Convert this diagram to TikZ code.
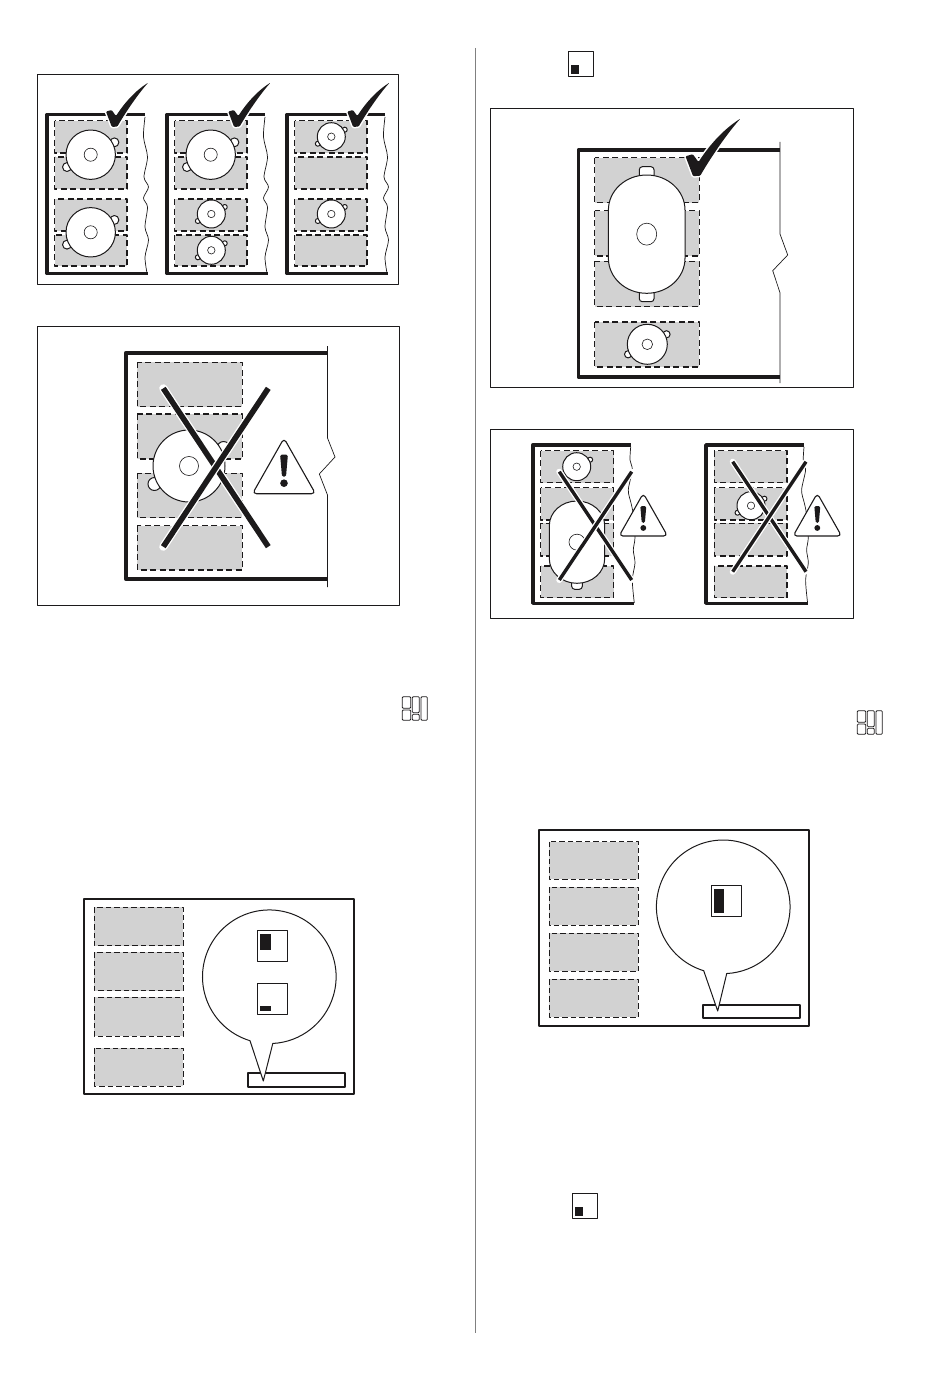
\documentclass[tikz,border=0pt]{standalone}
\definecolor{zonegray}{HTML}{D2D2D2}
\definecolor{inkblack}{HTML}{1C1A1B}
\begin{document}
\begin{tikzpicture}[x=1pt,y=-1pt,line join=round,
    panel/.style={draw=inkblack,line width=.8pt},
    panelthick/.style={draw=inkblack,line width=1.4pt},
    wall/.style={draw=inkblack,line width=3.6pt},
    edgeline/.style={draw=inkblack,line width=.7pt},
    zone/.style={fill=zonegray,draw=inkblack,line width=1.5pt,dash pattern=on 6pt off 3.5pt},
    zonethin/.style={fill=zonegray,draw=inkblack,line width=.8pt,dash pattern=on 5.5pt off 3pt},
    pot/.style={fill=white,draw=inkblack,line width=1pt},
    burner/.style={fill=white,draw=inkblack,line width=.6pt},
    keybox/.style={fill=white,draw=inkblack,line width=.9pt},
    bubble/.style={fill=white,draw=inkblack,line width=1pt}]
  \useasboundingbox (0,0) rectangle (950,1383);
  % separator between the columns
  \draw[gray,line width=.7pt] (475.5,48)--(475.5,1333);
  % frames
  \draw[panel] (37,74) rectangle (398,284);
  \draw[panel] (37,326) rectangle (399,605);
  \draw[panel] (490,108) rectangle (853,387);
  \draw[panel] (490,429) rectangle (853,618);
  \draw[panelthick] (84,899) rectangle (354,1094);
  \draw[panelthick] (539,830) rectangle (809,1026);

  % three small worktops, top left
  \foreach \dx in {0,120,240}{
    \draw[edgeline] plot[smooth] coordinates {(145+\dx,117) (143.5+\dx,137) (147.5+\dx,157) (144+\dx,177) (148.5+\dx,187) (143.5+\dx,198) (147.5+\dx,207) (145+\dx,227) (148.5+\dx,240) (145+\dx,257) (147+\dx,273)};
    \draw[wall] (145+\dx,114.5)--(47+\dx,114.5)--(47+\dx,273.5)--(148+\dx,273.5);
    \foreach \ya/\yb in {120.7/153,157/189,199/231,235/266}
      \draw[zone] (54.5+\dx,\ya) rectangle (127+\dx,\yb);
  }
  % worktop with the cross, left
  \draw[edgeline] (327.5,346)--(327.5,438)--(335,457)--(319.3,474)--(327.5,495)--(327.5,587);
  \draw[wall] (327,352.7)--(125.7,352.7)--(125.7,579)--(327,579);
  \foreach \ya/\yb in {362.3/406.7,414/459,473.3/517.7,525.7/570}
    \draw[zone] (137.3,\ya) rectangle (242.3,\yb);
  % worktop with the large oval pot
  \draw[edgeline] (780,142)--(780,234)--(787.7,255)--(772.7,270.7)--(780,292.7)--(780,383);
  \draw[wall] (780,150)--(578.3,150)--(578.3,376.7)--(780,376.7);
  \foreach \ya/\yb in {157.7/202.7,210.7/256,261.3/306.7,322/367}
    \draw[zone] (594.7,\ya) rectangle (699.3,\yb);
  % two worktops with crosses, right
  \foreach \dx/\zx in {0/540.7,173.3/714.3}{
    \draw[edgeline] plot[smooth] coordinates {(630.7+\dx,447) (630+\dx,460) (632.3+\dx,470) (628.3+\dx,490) (631+\dx,503) (633+\dx,513) (635+\dx,537) (633.3+\dx,550) (635+\dx,563) (632.3+\dx,580) (634.3+\dx,603)};
    \draw[wall] (631+\dx,445)--(532.7+\dx,445)--(532.7+\dx,603.3)--(634.3+\dx,603.3);
    \foreach \ya/\yb in {450.7/482.7,487.7/520,523.3/556,566/597.7}
      \draw[zone] (\zx,\ya) rectangle (\zx+72.8,\yb);
  }

  % round pots: centre, radius
  \foreach \cx/\cy/\pr in {90.7/154.7/24.7,90.7/232.3/24.7,210.7/154.7/24.7,211.3/214/14,211.3/250.3/14,331.3/136.7/14,331.3/214/14,189/466/36,647.3/344.3/20,751/505.7/14,576.7/466.7/14}{
    \fill[pot] ({\cx+\pr*.96},{\cy-\pr*.5}) circle ({\pr*.18pt});
    \fill[pot] ({\cx-\pr*.96},{\cy+\pr*.5}) circle ({\pr*.18pt});
    \fill[pot] (\cx,\cy) circle ({\pr*1pt});
    \fill[burner] (\cx,\cy) circle ({\pr*.265pt});
  }
  % oval pots
  \draw[pot,rounded corners=3pt] (639.3,178)--(639.3,166.7)--(654,166.7)--(654,178)--cycle;
  \draw[pot,rounded corners=3pt] (639.3,290)--(639.3,301.7)--(654,301.7)--(654,290)--cycle;
  \draw[pot,rounded corners=3pt] (571.7,580)--(571.7,589.3)--(582.3,589.3)--(582.3,580)--cycle;
  \foreach \cx/\yt/\yb/\w/\h/\bw/\bh in {646.7/210/258.3/38.3/35/10/11,577/525.7/558.6/27.7/24.7/8/8}{
    \draw[pot] (\cx-\w,\yt) arc[start angle=180,end angle=0,x radius=\w pt,y radius=\h pt]--(\cx+\w,\yb) arc[start angle=0,end angle=-180,x radius=\w pt,y radius=\h pt]--cycle;
    \draw[burner] (\cx,{(\yt+\yb)/2}) ellipse ({\bw*1pt} and {\bh*1pt});
  }

  % crosses
  \foreach \xa/\xb/\ya/\yb/\w in {163.3/268.3/388.3/546.7/5.6,559.3/631.7/471.7/580/3.4,732.7/806/461.7/571.7/3.4}{
    \draw[white,line width={\w*1pt+2.6pt},line cap=round] (\xa,\ya)--(\xb,\yb);
    \draw[inkblack,line width=\w pt] (\xa,\ya)--(\xb,\yb);
    \draw[white,line width={\w*1pt+2.6pt},line cap=round] (\xb,\ya)--(\xa,\yb);
    \draw[inkblack,line width=\w pt] (\xb,\ya)--(\xa,\yb);
  }
  % warning triangles
  \foreach \ax/\ay/\s in {284/441.7/1,643.3/496/.77,817.3/496/.77}{
    \begin{scope}[shift={(\ax,\ay)},scale=\s]
      \draw[fill=white,draw=inkblack,line width=1.1pt,rounded corners=4pt] (0,-3.5)--(31.5,52)--(-31.5,52)--cycle;
      \fill[inkblack,rounded corners=1.5pt] (-3.9,13)--(3.9,13)--(2,35)--(-2,35)--cycle;
      \fill[inkblack] (0,41.5) circle (3.8pt);
    \end{scope}
  }
  % check marks
  \foreach \tx/\ty/\s in {113.3/127.3/1,235.6/127.3/1,354.6/127.3/1,695/176.7/1.3}{
    \begin{scope}[shift={(\tx,\ty)},scale=\s]
      \fill[inkblack,preaction={draw=white,line width=3pt},rounded corners=1pt] (-7.3,-15.7)--(-1.7,-17.3)--(2.7,-11.3) .. controls (7,-18) and (18,-34) .. (35,-44.7) .. controls (27,-36) and (14,-18) .. (4,-.7)--(-1.5,-.4)--cycle;
    \end{scope}
  }

  % displays with speech bubbles
  \foreach \ya/\yb in {907.3/945.7,952.3/990.7,997.3/1036.3,1048.3/1086}
    \draw[zonethin] (94.3,\ya) rectangle (183.3,\yb);
  \foreach \ya/\yb in {841.7/879.3,887.3/925.3,933.3/971.3,979.3/1017.3}
    \draw[zonethin] (549,\ya) rectangle (638.3,\yb);
  \draw[keybox,line width=1.6pt] (247.7,1072.7) rectangle (345,1086.7);
  \draw[keybox,line width=1.6pt] (702.7,1004.7) rectangle (800,1018);
  \draw[bubble] (250,1040.7) arc[start angle=253.2,end angle=-87,radius=66.8pt]--(263.3,1081)--cycle;
  \draw[bubble] (703.7,970.7) arc[start angle=253,end angle=-87,radius=66.8pt]--(717.7,1011)--cycle;
  % level keys
  \foreach \xa/\ya/\xb/\yb in {257.3/930.3/287.3/961.3,257.3/983.3/287.3/1014.3,711.7/885.7/741.7/916.3,568.3/51.7/593.3/76.7,572.3/1193/597.3/1218.7}
    \draw[keybox] (\xa,\ya) rectangle (\xb,\yb);
  \foreach \xa/\ya/\xb/\yb in {260/934.3/270.7/949.7,260/1006.3/270.7/1011,714/889/724.3/912.7,571/65/579.3/74.3,575/1207.3/582.7/1216.3}
    \fill[inkblack] (\xa,\ya) rectangle (\xb,\yb);
  % zone icons
  \foreach \dx/\dy in {0/0,455/14}{
    \foreach \xa/\ya/\xb/\yb in {402.3/696.7/410.7/708.3,402.3/710/410.7/720.3,412.3/696.7/419.3/712.7,412.3/714.3/419.3/720.3,421/696.7/427.3/720.3}
      \draw[inkblack,line width=.8pt,rounded corners=1pt] (\xa+\dx,\ya+\dy) rectangle (\xb+\dx,\yb+\dy);
  }
\end{tikzpicture}
\end{document}
